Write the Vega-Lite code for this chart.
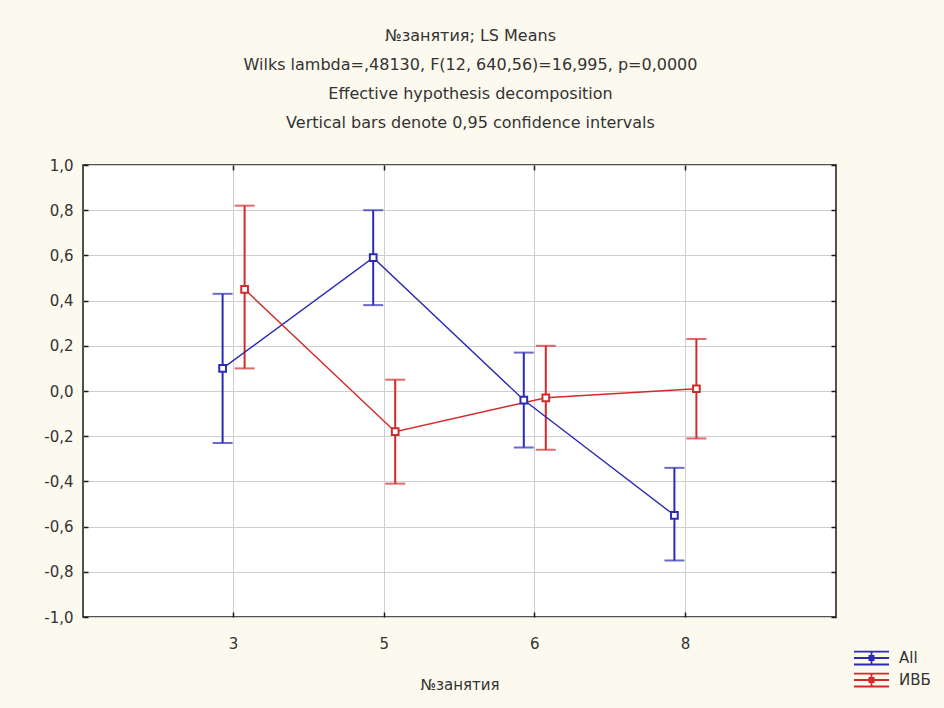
{
  "$schema": "https://vega.github.io/schema/vega-lite/v6.json",
  "width": 753,
  "height": 452,
  "autosize": {"type": "none"},
  "padding": {"left": 83, "top": 165, "right": 108, "bottom": 91},
  "background": "#fcf9ef",
  "title": {
    "text": ["№занятия; LS Means", "Wilks lambda=,48130, F(12, 640,56)=16,995, p=0,0000", "Effective hypothesis decomposition", "Vertical bars denote 0,95 confidence intervals"],
    "font": "DejaVu Sans",
    "fontSize": 16,
    "fontWeight": "normal",
    "color": "#333333",
    "lineHeight": 29,
    "offset": 27,
    "dx": 11,
    "anchor": "middle"
  },
  "config": {
    "view": {"fill": "white", "stroke": "#1a1a1a", "strokeWidth": 1.5},
    "axis": {
      "labelFont": "DejaVu Sans",
      "labelFontSize": 15,
      "labelColor": "#333333",
      "titleFont": "DejaVu Sans",
      "titleFontSize": 15,
      "titleFontWeight": "normal",
      "titleColor": "#333333",
      "gridColor": "#cfcfcf",
      "gridWidth": 1,
      "domain": false,
      "tickColor": "#1a1a1a",
      "tickWidth": 1.5
    },
    "legend": {
      "labelFont": "DejaVu Sans",
      "labelFontSize": 15,
      "labelColor": "#333333"
    }
  },
  "data": {
    "values": [
      {"session": "3", "group": "All", "mean": 0.10, "lo": -0.23, "hi": 0.43},
      {"session": "5", "group": "All", "mean": 0.59, "lo": 0.38, "hi": 0.80},
      {"session": "6", "group": "All", "mean": -0.04, "lo": -0.25, "hi": 0.17},
      {"session": "8", "group": "All", "mean": -0.55, "lo": -0.75, "hi": -0.34},
      {"session": "3", "group": "ИВБ", "mean": 0.45, "lo": 0.10, "hi": 0.82},
      {"session": "5", "group": "ИВБ", "mean": -0.18, "lo": -0.41, "hi": 0.05},
      {"session": "6", "group": "ИВБ", "mean": -0.03, "lo": -0.26, "hi": 0.20},
      {"session": "8", "group": "ИВБ", "mean": 0.01, "lo": -0.21, "hi": 0.23}
    ]
  },
  "encoding": {
    "x": {"field": "session", "type": "nominal", "sort": ["3", "5", "6", "8"], "scale": {"type": "band", "paddingInner": 0, "paddingOuter": 0.5}, "axis": null},
    "xOffset": {"field": "group", "type": "nominal", "sort": ["All", "ИВБ"], "scale": {"type": "band", "paddingInner": 0, "paddingOuter": 0, "range": [53.3, 97.3]}},
    "color": {"field": "group", "type": "nominal", "scale": {"domain": ["All", "ИВБ"], "range": ["#2b2bb3", "#d12b2b"]}, "legend": null}
  },
  "resolve": {"axis": {"x": "independent", "y": "independent"}},
  "layer": [
    {
      "mark": {"type": "rule", "strokeWidth": 2},
      "encoding": {
        "x": {"field": "session", "type": "nominal", "sort": ["3", "5", "6", "8"], "axis": {"orient": "bottom", "title": "№занятия", "labelAngle": 0, "tickSize": -5, "labelPadding": 24, "titlePadding": 26, "grid": true, "gridColor": "#cfcfcf"}},
        "y": {"field": "lo", "type": "quantitative", "scale": {"domain": [-1, 1], "nice": false}, "axis": {"orient": "left", "title": null, "values": [-1, -0.8, -0.6, -0.4, -0.2, 0, 0.2, 0.4, 0.6, 0.8, 1], "labelExpr": "replace(replace(format(datum.value, '.1f'), '.', ','), '−', '-')", "tickSize": -5, "labelPadding": 15, "grid": true}},
        "y2": {"field": "hi"},
        "color": {"field": "group", "type": "nominal", "scale": {"domain": ["All", "ИВБ"], "range": ["#2b2bb3", "#d12b2b"]}, "legend": {"title": null, "orient": "none", "legendX": 770, "legendY": 484, "symbolType": "M-1,-0.37H1M0,-0.37V0.37M-1,0.37H1M-1,0H1M-0.12,-0.12H0.12V0.12H-0.12Z", "symbolSize": 1225, "symbolStrokeWidth": 1.8, "symbolFillColor": "transparent", "clipHeight": 18, "rowPadding": 4, "labelOffset": 9}}
      }
    },
    {
      "mark": {"type": "tick", "size": 20, "thickness": 2},
      "encoding": {"y": {"field": "hi", "type": "quantitative", "axis": null}}
    },
    {
      "mark": {"type": "tick", "size": 20, "thickness": 2},
      "encoding": {"y": {"field": "lo", "type": "quantitative", "axis": null}}
    },
    {
      "mark": {"type": "line", "strokeWidth": 1.4},
      "encoding": {
        "x": {"field": "session", "type": "nominal", "sort": ["3", "5", "6", "8"], "axis": {"orient": "top", "title": null, "labels": false, "tickSize": -5, "grid": false}},
        "y": {"field": "mean", "type": "quantitative", "axis": {"orient": "right", "title": null, "labels": false, "values": [-1, -0.8, -0.6, -0.4, -0.2, 0, 0.2, 0.4, 0.6, 0.8, 1], "tickSize": -5, "grid": false}}
      }
    },
    {
      "mark": {"type": "point", "shape": "square", "filled": false, "size": 45, "strokeWidth": 2, "fill": "white", "fillOpacity": 1},
      "encoding": {"y": {"field": "mean", "type": "quantitative", "axis": null}}
    }
  ]
}
